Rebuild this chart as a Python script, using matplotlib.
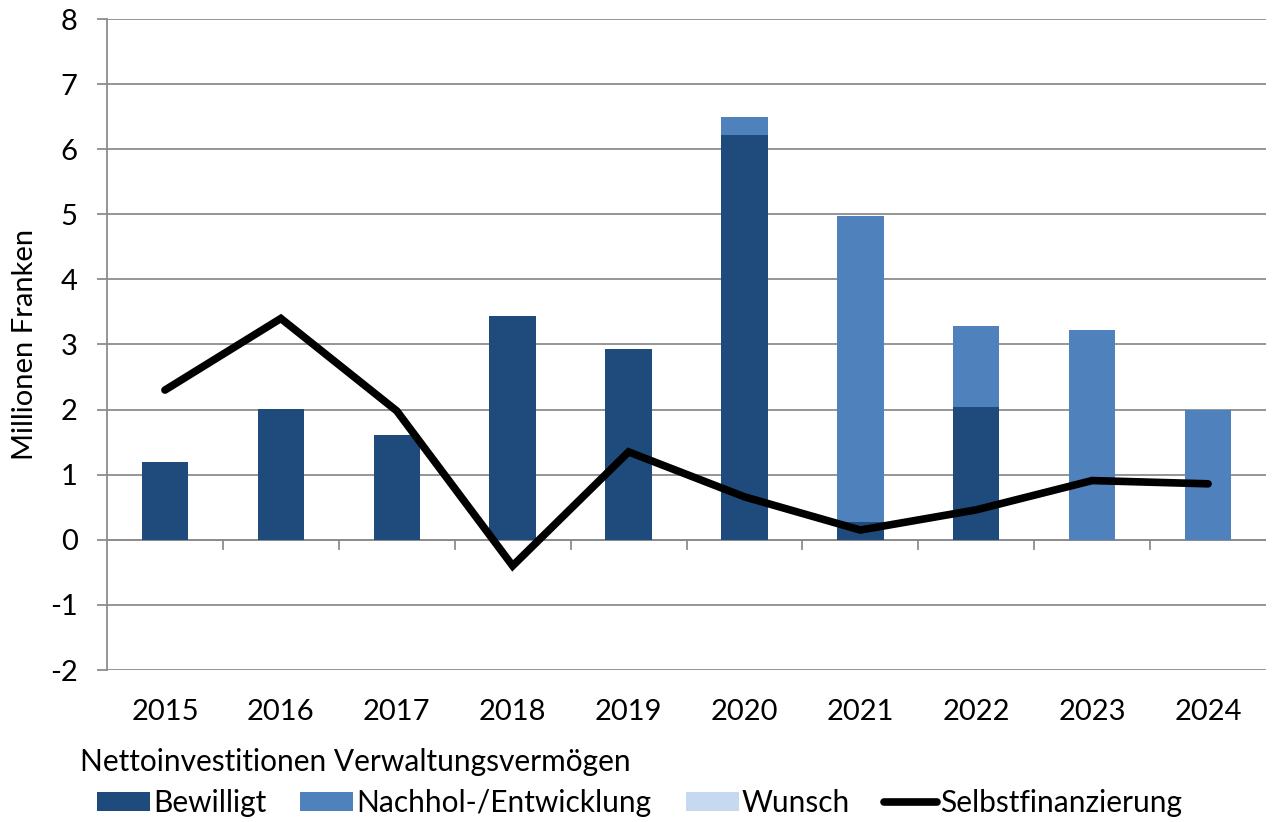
import matplotlib
matplotlib.use("Agg")
import matplotlib.pyplot as plt
import numpy as np
from matplotlib.patches import Patch
from matplotlib.lines import Line2D

years = ["2015", "2016", "2017", "2018", "2019", "2020", "2021", "2022", "2023", "2024"]
bewilligt = [1.20, 2.01, 1.61, 3.44, 2.93, 6.22, 0.28, 2.04, 0.0, 0.0]
nachhol = [0.0, 0.0, 0.0, 0.0, 0.0, 0.28, 4.70, 1.25, 3.23, 1.99]
wunsch = [0.0, 0.0, 0.0, 0.0, 0.0, 0.0, 0.0, 0.0, 0.0, 0.0]
selbstfin = [2.30, 3.40, 1.98, -0.40, 1.35, 0.66, 0.15, 0.46, 0.91, 0.86]

c_bew = "#1f4a7c"
c_nach = "#4f81bd"
c_wun = "#c6d9f1"

plt.rcParams["font.family"] = ["Lato", "DejaVu Sans"]

fig = plt.figure(figsize=(12.73, 8.22), dpi=100)
ax = fig.add_axes([107/1273, 1-670/822, 1159/1273, (670-19)/822])

x = np.arange(len(years))
w = 0.4
b1 = np.array(bewilligt)
b2 = np.array(nachhol)
ax.bar(x, b1, w, color=c_bew, edgecolor="none", zorder=2)
ax.bar(x, b2, w, bottom=b1, color=c_nach, edgecolor="none", zorder=2)
ax.bar(x, wunsch, w, bottom=b1 + b2, color=c_wun, edgecolor="none", zorder=2)
ax.plot(x, selbstfin, color="black", lw=5.5, solid_capstyle="round", solid_joinstyle="miter", zorder=3)

ax.set_xlim(-0.5, len(years) - 0.5)
ax.set_ylim(-2, 8)
ax.set_yticks(range(-2, 9))
ax.set_yticklabels([str(v) for v in range(-2, 9)], fontsize=21)
ax.grid(axis="y", color="#8c8c8c", lw=1.3, zorder=0)
ax.axhline(0, color="#8c8c8c", lw=1.3, zorder=1)
for s in ["top", "right", "bottom"]:
    ax.spines[s].set_visible(False)
ax.spines["left"].set_color("#8c8c8c")
ax.spines["left"].set_linewidth(1.3)
ax.tick_params(axis="y", length=7.2, width=1.3, color="#8c8c8c", pad=14)
ax.tick_params(axis="x", length=0, pad=21, labelsize=21)
ax.set_xticks(x)
ax.set_xticklabels(years)
# tick marks on the zero line between categories
for b in np.arange(0.5, len(years) - 0.5, 1.0):
    ax.plot([b, b], [0, -0.14], color="#8c8c8c", lw=1.3, clip_on=False, zorder=1)

ax.set_ylabel("Millionen Franken", fontsize=21)
ax.yaxis.set_label_coords(-69/1159, 0.5)

fig.text(80/1273, 1-762/822, "Nettoinvestitionen Verwaltungsvermögen", fontsize=21.5,
         ha="left", va="center")

handles = [
    Patch(facecolor=c_bew, edgecolor="none"),
    Patch(facecolor=c_nach, edgecolor="none"),
    Patch(facecolor=c_wun, edgecolor="none"),
    Line2D([0], [0], color="black", lw=5.5, solid_capstyle="round"),
]
labels = ["Bewilligt", "Nachhol-/Entwicklung", "Wunsch", "Selbstfinanzierung"]
leg = fig.legend(handles, labels, ncol=4, frameon=False, fontsize=21.5,
                 loc="center left", bbox_to_anchor=(97/1273, 1-803/822),
                 handlelength=1.77, handleheight=0.6, handletextpad=0.1,
                 columnspacing=1.15, borderaxespad=0.0, borderpad=0.0)

fig.savefig("out.png", dpi=100)
